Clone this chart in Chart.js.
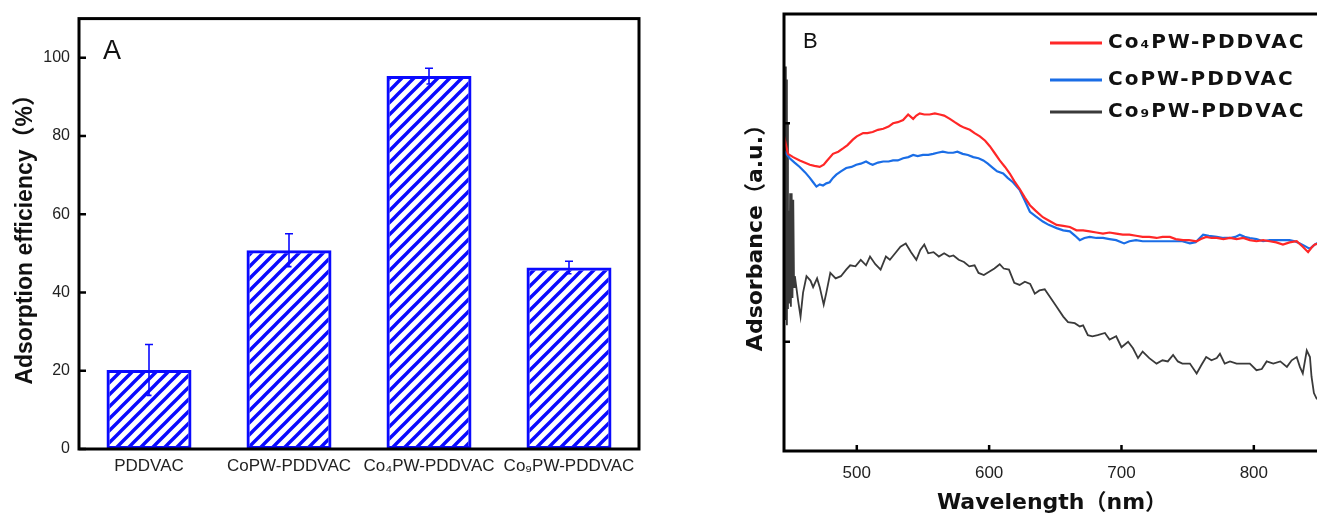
<!DOCTYPE html>
<html>
<head>
<meta charset="utf-8">
<script src="https://cdn.jsdelivr.net/npm/chart.js@4.4.1/dist/chart.umd.min.js"></script>
<style>
html,body{margin:0;padding:0;background:#fff;overflow:hidden;width:1317px;height:519px;}
#wrapA{position:absolute;left:0;top:0;width:660px;height:519px;}
#outerB{position:absolute;left:700px;top:0;width:617px;height:519px;overflow:hidden;}
#wrapB{position:absolute;left:0;top:0;width:622px;height:519px;}
</style>
</head>
<body>
<div id="wrapA"><canvas id="chartA"></canvas></div>
<div id="outerB"><div id="wrapB"><canvas id="chartB"></canvas></div></div>
<script>
// ---------- Panel A data ----------
const categoriesA = ['PDDVAC', 'CoPW-PDDVAC', 'Co\u2084PW-PDDVAC', 'Co\u2089PW-PDDVAC'];
const efficiencyA = [20.2, 50.8, 95.3, 46.4];
const errorA = [6.5, 4.2, 2.0, 1.6];
const yTicksA = [0, 20, 40, 60, 80, 100];

// ---------- Panel B data ----------
const seriesNamesB = ['Co\u2084PW-PDDVAC', 'CoPW-PDDVAC', 'Co\u2089PW-PDDVAC'];
const xTicksB = [500, 600, 700, 800];
const yTicksB = [0.4, 0.6];

const wlCo4 = [445,448,451.9,456.9,464.5,468,472,475,477,482,486,489.6,493,497,500,504.8,508,512,516,520,524,527.4,531,535,538.8,542.6,545,547.6,551,555,559,562.7,566,570.3,574,577.9,581,585.4,589,593,597,600.5,604,608,612,615.6,619,623,627,630.8,635,640.6,645,651,656,661,666,671,676,681,686,691,696,701,706,711,716,721,726.5,731,736.6,741,746.5,751,756.8,760,764,768,772,777,782,787,792,797,802,807,812,817,822,827,832.4,837,841,843.5,846,850];
const absCo4 = [0.588,0.572,0.569,0.566,0.562,0.561,0.560,0.562,0.565,0.572,0.574,0.577,0.580,0.585,0.588,0.591,0.591,0.592,0.594,0.595,0.597,0.600,0.601,0.603,0.608,0.604,0.607,0.609,0.608,0.608,0.609,0.608,0.607,0.604,0.601,0.598,0.596,0.594,0.591,0.588,0.584,0.579,0.573,0.566,0.560,0.554,0.547,0.540,0.532,0.525,0.520,0.514,0.511,0.507,0.506,0.505,0.502,0.502,0.501,0.500,0.499,0.500,0.499,0.498,0.498,0.497,0.496,0.496,0.495,0.496,0.496,0.494,0.493,0.493,0.492,0.494,0.496,0.495,0.495,0.494,0.495,0.494,0.495,0.493,0.492,0.493,0.492,0.491,0.489,0.491,0.492,0.487,0.482,0.486,0.489,0.490];

const wlCoPW = [445,449.3,453,456.9,461,464.5,467,469.5,472,474.5,477,479.5,482,484.5,488,492,496,499.6,503,507,510,512,516,520,524,527.4,531,535,539,542.6,546,550,554,557.7,561,565,569,572.8,576,580,584,588,592,595.6,599,603,606,610.6,614,618,623,627,630.8,635,640.6,645,651,656,661,665,668.5,672,676,681,686,691,696,702,706,711,716,721,726,731,736,741,746,751.7,756,761.7,766,772,777,782,786,789.4,793,797,802,807,812,817,822,827,831,834.8,838,842.4,845,847.4,850];
const absCoPW = [0.575,0.568,0.564,0.560,0.555,0.550,0.546,0.542,0.544,0.543,0.545,0.546,0.550,0.553,0.556,0.559,0.560,0.562,0.563,0.565,0.563,0.562,0.564,0.565,0.565,0.566,0.566,0.568,0.569,0.571,0.570,0.571,0.571,0.572,0.573,0.574,0.573,0.573,0.574,0.572,0.571,0.569,0.568,0.566,0.563,0.559,0.556,0.554,0.550,0.546,0.539,0.529,0.519,0.515,0.510,0.507,0.504,0.502,0.501,0.497,0.493,0.495,0.496,0.495,0.495,0.494,0.493,0.490,0.492,0.493,0.492,0.492,0.492,0.492,0.492,0.492,0.492,0.490,0.491,0.498,0.497,0.496,0.495,0.495,0.496,0.498,0.496,0.495,0.494,0.492,0.493,0.493,0.493,0.493,0.492,0.490,0.488,0.485,0.488,0.490,0.491];

const wlCo9 = [445.3,446.0,446.4,446.8,447.2,447.6,448.0,448.5,449.0,449.6,450.2,450.8,451.4,452.0,452.6,453.2,454.3,455.6,457.5,459.4,462,465,467,470,472,475,477,480,484,488,492,495,499,503,507,510,514,518,522,525,529,533,537,541,545,548,551,554,558,562,566,570,573,577,581,585,589,592,596,600,604,608,611,615,619,623,627,631,634.5,638,642,646,651,656,659.6,664.7,668.5,671,674.6,678,682,687.5,691,696,700,705,708.7,712.5,716,721,726.5,731,735,739,742.6,746,751.7,756.8,760.5,764,768,772,774.4,778,782,787,792,797,802,806,809.7,814.7,820,825,828.6,832.4,834.8,837,840,842.4,843.6,845.4,847.4,850];
const absCo9 = [0.500,0.652,0.420,0.640,0.415,0.600,0.430,0.520,0.435,0.536,0.432,0.536,0.440,0.530,0.450,0.460,0.450,0.438,0.423,0.445,0.460,0.456,0.450,0.458,0.450,0.434,0.445,0.463,0.458,0.460,0.466,0.470,0.469,0.475,0.470,0.478,0.471,0.466,0.478,0.475,0.481,0.487,0.490,0.482,0.475,0.484,0.489,0.481,0.482,0.478,0.481,0.478,0.479,0.475,0.473,0.469,0.470,0.463,0.461,0.464,0.467,0.471,0.467,0.466,0.454,0.452,0.455,0.453,0.444,0.447,0.448,0.441,0.432,0.423,0.418,0.417,0.414,0.415,0.406,0.405,0.406,0.408,0.402,0.405,0.395,0.400,0.394,0.385,0.391,0.385,0.380,0.383,0.382,0.388,0.382,0.380,0.380,0.371,0.379,0.386,0.383,0.385,0.389,0.380,0.382,0.380,0.380,0.380,0.374,0.375,0.382,0.380,0.382,0.377,0.383,0.386,0.377,0.371,0.392,0.386,0.368,0.353,0.348,0.350];

const colorsB = ['#ff2727', '#1a6de6', '#3a3a3a'];

const FONT = "'Liberation Sans', Arial, 'Noto Sans CJK SC', sans-serif";
const FONT_B = "'DejaVu Sans', 'Liberation Sans', 'Noto Sans CJK SC', sans-serif";

// ---------- hatch pattern ----------
function makeHatch(color) {
  const s = 12;
  const c = document.createElement('canvas');
  c.width = s; c.height = s;
  const g = c.getContext('2d');
  g.strokeStyle = color;
  g.lineWidth = 3.4;
  g.lineCap = 'square';
  g.beginPath();
  g.moveTo(0, s); g.lineTo(s, 0);
  g.moveTo(-s / 2, s / 2); g.lineTo(s / 2, -s / 2);
  g.moveTo(s / 2, s + s / 2); g.lineTo(s + s / 2, s / 2);
  g.stroke();
  return g.createPattern(c, 'repeat');
}
const BLUE = '#0a0aff';

// ---------- plugins ----------
const frameA = {
  id: 'frameA',
  afterDatasetsDraw(chart) {
    const {ctx, scales} = chart;
    const meta = chart.getDatasetMeta(0);
    const ys = scales.y;
    ctx.save();
    ctx.strokeStyle = BLUE;
    ctx.lineWidth = 1.6;
    meta.data.forEach((el, i) => {
      const x = el.x;
      const yt = ys.getPixelForValue(efficiencyA[i] + errorA[i]);
      const yb = ys.getPixelForValue(efficiencyA[i] - errorA[i]);
      ctx.beginPath();
      ctx.moveTo(x, yt); ctx.lineTo(x, yb);
      ctx.moveTo(x - 4, yt); ctx.lineTo(x + 4, yt);
      ctx.moveTo(x - 2.5, yb); ctx.lineTo(x + 2.5, yb);
      ctx.stroke();
    });
    ctx.restore();
  },
  afterDraw(chart) {
    const {ctx, chartArea: a, scales} = chart;
    ctx.save();
    ctx.strokeStyle = '#000';
    ctx.lineWidth = 3;
    ctx.strokeRect(a.left, a.top, a.right - a.left, a.bottom - a.top);
    ctx.lineWidth = 2.5;
    yTicksA.forEach(v => {
      const y = scales.y.getPixelForValue(v);
      ctx.beginPath(); ctx.moveTo(a.left, y); ctx.lineTo(a.left + 7, y); ctx.stroke();
    });
    ctx.fillStyle = '#111';
    ctx.font = "27px " + FONT;
    ctx.textBaseline = 'alphabetic';
    ctx.fillText('A', 103, 59);
    ctx.restore();
  }
};

const frameB = {
  id: 'frameB',
  afterDraw(chart) {
    const {ctx, chartArea: a, scales} = chart;
    ctx.save();
    ctx.strokeStyle = '#000';
    ctx.lineWidth = 3;
    ctx.strokeRect(a.left, a.top, a.right - a.left, a.bottom - a.top);
    ctx.lineWidth = 2.5;
    yTicksB.forEach(v => {
      const y = scales.y.getPixelForValue(v);
      ctx.beginPath(); ctx.moveTo(a.left, y); ctx.lineTo(a.left + 6, y); ctx.stroke();
    });
    xTicksB.forEach(v => {
      const x = scales.x.getPixelForValue(v);
      ctx.beginPath(); ctx.moveTo(x, a.bottom); ctx.lineTo(x, a.bottom - 6); ctx.stroke();
    });
    ctx.fillStyle = '#111';
    ctx.font = "22px " + FONT;
    ctx.fillText('B', 103, 48);
    // legend
    const rowsY = [43, 80, 112];
    chart.data.datasets.forEach((ds, i) => {
      const y = rowsY[i];
      ctx.strokeStyle = ds.borderColor;
      ctx.lineWidth = 3;
      ctx.beginPath(); ctx.moveTo(350, y); ctx.lineTo(402, y); ctx.stroke();
      ctx.fillStyle = '#111';
      ctx.font = "bold 20px " + FONT_B;
      ctx.textBaseline = 'middle';
      ctx.letterSpacing = '2px';
      ctx.fillText(ds.label, 408, y);
      ctx.letterSpacing = '0px';
    });
    ctx.restore();
  }
};

// ---------- Chart A ----------
new Chart(document.getElementById('chartA'), {
  type: 'bar',
  data: {
    labels: categoriesA,
    datasets: [{
      data: efficiencyA,
      backgroundColor: makeHatch(BLUE),
      borderColor: BLUE,
      borderWidth: 3,
      borderSkipped: false,
      barPercentage: 0.607,
      categoryPercentage: 1.0
    }]
  },
  options: {
    responsive: true,
    maintainAspectRatio: false,
    animation: false,
    layout: {padding: {top: 15, right: 21, left: 0, bottom: 0}},
    plugins: {legend: {display: false}, tooltip: {enabled: false}},
    scales: {
      x: {
        grid: {display: false, drawTicks: false},
        border: {display: false},
        ticks: {color: '#222', font: {family: FONT, size: 17}, padding: 7, maxRotation: 0, autoSkip: false},
        afterFit(s) { s.height = 70; }
      },
      y: {
        min: 0, max: 110,
        grid: {display: false, drawTicks: false},
        border: {display: false},
        ticks: {stepSize: 20, includeBounds: false, color: '#222', font: {family: FONT, size: 16}, padding: 9},
        title: {display: true, text: 'Adsorption efficiency（%）', color: '#111',
                font: {family: FONT, size: 23, weight: 'bold', lineHeight: 1}, padding: {top: 14, bottom: 0}},
        afterFit(s) { s.width = 79; }
      }
    }
  },
  plugins: [frameA]
});

// ---------- Chart B ----------
function pts(xs, ys) { return xs.map((x, i) => ({x: x, y: ys[i]})); }
new Chart(document.getElementById('chartB'), {
  type: 'line',
  data: {
    datasets: [
      {label: seriesNamesB[0], data: pts(wlCo4, absCo4), borderColor: colorsB[0], borderWidth: 2.2, pointRadius: 0, tension: 0},
      {label: seriesNamesB[1], data: pts(wlCoPW, absCoPW), borderColor: colorsB[1], borderWidth: 2.2, pointRadius: 0, tension: 0},
      {label: seriesNamesB[2], data: pts(wlCo9, absCo9), borderColor: colorsB[2], borderWidth: 1.8, pointRadius: 0, tension: 0}
    ]
  },
  options: {
    responsive: true,
    maintainAspectRatio: false,
    animation: false,
    layout: {padding: {top: 14, right: 2, left: 0, bottom: 0}},
    plugins: {legend: {display: false}, tooltip: {enabled: false}},
    scales: {
      x: {
        type: 'linear', min: 445, max: 850,
        grid: {display: false, drawTicks: false},
        border: {display: false},
        afterBuildTicks(s) { s.ticks = xTicksB.map(v => ({value: v})); },
        ticks: {color: '#222', font: {family: FONT, size: 17}, padding: 12, maxRotation: 0},
        title: {display: true, text: 'Wavelength（nm）', color: '#111',
                font: {family: FONT_B, size: 22, weight: 'bold', lineHeight: 1}, padding: {top: 0, bottom: 5}},
        afterFit(s) { s.height = 68; }
      },
      y: {
        min: 0.30, max: 0.70,
        grid: {display: false, drawTicks: false},
        border: {display: false},
        ticks: {display: false},
        title: {display: true, text: 'Adsorbance（a.u.）', color: '#111',
                font: {family: FONT_B, size: 22, weight: 'bold', lineHeight: 1}, padding: {top: 45, bottom: 0}},
        afterFit(s) { s.width = 84; }
      }
    }
  },
  plugins: [frameB]
});
</script>
</body>
</html>
